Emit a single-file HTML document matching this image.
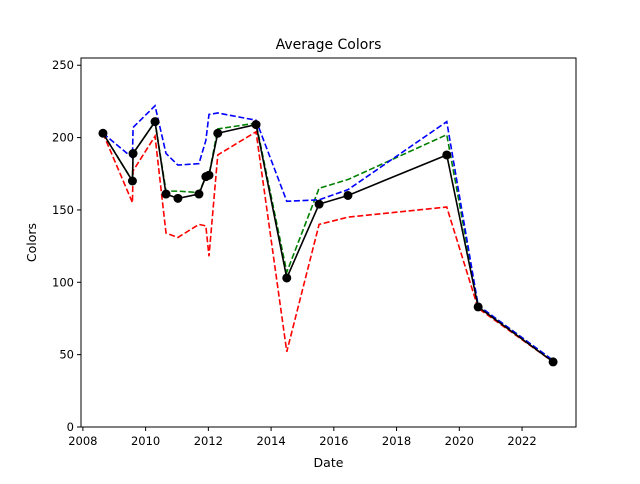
<!DOCTYPE html>
<html><head><meta charset="utf-8"><style>
body{margin:0;background:#fff;font-family:"DejaVu Sans","Liberation Sans",sans-serif}
</style></head><body>
<svg id="c" width="640" height="480" xmlns="http://www.w3.org/2000/svg"></svg>
<script>
const dates=[2008.64,2009.58,2009.60,2010.30,2010.65,2011.03,2011.70,2011.92,2012.02,2012.30,2013.52,2014.50,2015.53,2016.45,2019.60,2020.60,2022.99];
const avgVals=[203,170,189,211,161,158,161,173,174,203,209,103,154,160,188,83,45];
const greenVals=[203,170,189,211,163,163,162,173,174,206,210,107,165,171,202,84,46];
const blueVals=[203,186,207,222,189,181,182,198,216,217,212,156,157,164,211,84,46];
const redVals=[203,155,177,201,134,131,140,139,118,188,204,52,140,145,152,82,45];
const xTicks=[2008,2010,2012,2014,2016,2018,2020,2022];
const yTicks=[0,50,100,150,200,250];
const L=81,R=576,T=58,B=427,xmin=2007.94,xmax=2023.72,ymin=0,ymax=255;
const sx=v=>L+(v-xmin)/(xmax-xmin)*(R-L);
const sy=v=>B-(v-ymin)/(ymax-ymin)*(B-T);
const svg=document.getElementById('c');const NS='http://www.w3.org/2000/svg';
function mk(t,a,p){const e=document.createElementNS(NS,t);for(const k in a)e.setAttribute(k,a[k]);(p||svg).appendChild(e);return e;}
function line(vals,color,dash,name){
 const e=mk('polyline',{points:vals.map((v,i)=>sx(dates[i])+','+sy(v)).join(' '),fill:'none',stroke:color,'stroke-width':1.6,'stroke-dasharray':dash||'none'});
 
 
}
line(redVals,'#ff0000','6,2.6','red-series');
line(greenVals,'#008000','6,2.6','green-series');
line(blueVals,'#0000ff','6,2.6','blue-series');
line(avgVals,'#000','', 'average-series');
avgVals.forEach((v,i)=>{const c=mk('circle',{cx:sx(dates[i]),cy:sy(v),r:4.5,fill:'#000'});
 
 });
const f=mk('rect',{x:L,y:T,width:R-L,height:B-T,fill:'none',stroke:'#000','stroke-width':1});


xTicks.forEach(t=>{const x=sx(t);mk('line',{x1:x,x2:x,y1:B,y2:B+4,stroke:'#000'});
 const s=mk('text',{x:x,y:B+18,'text-anchor':'middle','font-size':11.5});s.textContent=t;
 
 });
yTicks.forEach(t=>{const y=sy(t);mk('line',{x1:L-4,x2:L,y1:y,y2:y,stroke:'#000'});
 const s=mk('text',{x:L-7,y:y+4,'text-anchor':'end','font-size':11.5});s.textContent=t;
 
 });
let t=mk('text',{x:(L+R)/2,y:49,'text-anchor':'middle','font-size':14});t.textContent='Average Colors';

t=mk('text',{x:(L+R)/2,y:467,'text-anchor':'middle','font-size':12.5});t.textContent='Date';

t=mk('text',{x:36,y:(T+B)/2,'text-anchor':'middle','font-size':12.5,transform:'rotate(-90 36 '+((T+B)/2)+')'});t.textContent='Colors';

</script>
</body></html>
